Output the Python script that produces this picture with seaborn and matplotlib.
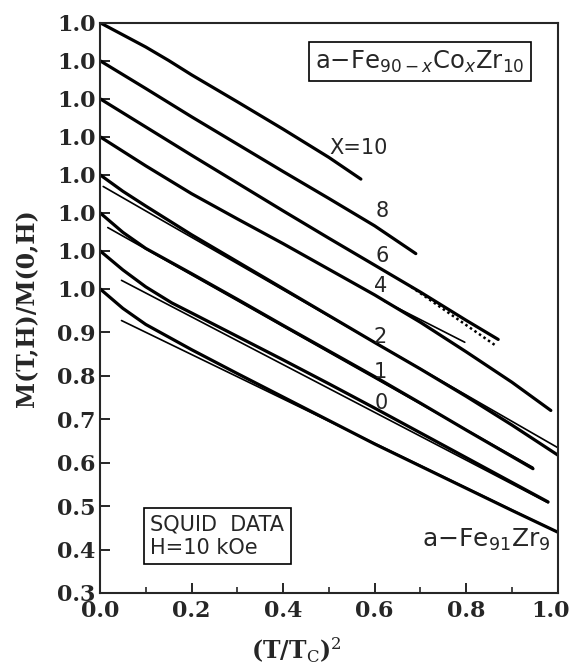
import matplotlib
matplotlib.use("Agg")
import numpy as np
import pandas as pd
import matplotlib.pyplot as plt
import matplotlib.transforms as mtransforms
import seaborn as sns
from matplotlib.ticker import FixedLocator, MultipleLocator

sns.set_style("ticks")
plt.rcParams["font.family"] = ["DejaVu Serif"]

# each curve is shifted up by one step so they do not overlap
offset_step = 0.0875

# reduced magnetisation vs (T/Tc)^2, bottom curve first
curve_names = ["Fe91Zr9", "X=0", "X=1", "X=2", "X=4", "X=6", "X=8", "X=10"]

x_fe91 = [0, 0.05, 0.1, 0.2, 0.3, 0.4, 0.5, 0.6, 0.7, 0.8, 0.9, 1.0]
m_fe91 = [1.0, 0.955, 0.918, 0.860, 0.805, 0.751, 0.697, 0.643, 0.592, 0.541, 0.490, 0.440]

x_x0 = [0, 0.05, 0.1, 0.157, 0.2, 0.3, 0.4, 0.5, 0.6, 0.7, 0.8, 0.9, 0.979]
m_x0 = [1.0, 0.956, 0.917, 0.880, 0.857, 0.803, 0.749, 0.694, 0.638, 0.581, 0.524, 0.467, 0.422]

x_x1 = [0, 0.05, 0.1, 0.2, 0.3, 0.4, 0.5, 0.6, 0.7, 0.8, 0.946]
m_x1 = [1.0, 0.955, 0.918, 0.860, 0.801, 0.741, 0.682, 0.623, 0.562, 0.500, 0.411]

x_x2 = [0, 0.05, 0.1, 0.2, 0.3, 0.4, 0.5, 0.6, 0.7, 0.8, 0.9, 1.0]
m_x2 = [1.0, 0.962, 0.928, 0.862, 0.800, 0.738, 0.676, 0.614, 0.553, 0.490, 0.424, 0.355]

x_x4 = [0, 0.1, 0.2, 0.3, 0.4, 0.5, 0.6, 0.7, 0.8, 0.9, 0.985]
m_x4 = [1.0, 0.933, 0.869, 0.811, 0.754, 0.695, 0.636, 0.573, 0.505, 0.435, 0.370]

x_x6 = [0, 0.1, 0.2, 0.3, 0.4, 0.5, 0.6, 0.7, 0.8, 0.87]
m_x6 = [1.0, 0.935, 0.870, 0.806, 0.742, 0.679, 0.617, 0.555, 0.490, 0.446]

x_x8 = [0, 0.1, 0.2, 0.3, 0.4, 0.5, 0.6, 0.69]
m_x8 = [1.0, 0.936, 0.871, 0.808, 0.745, 0.683, 0.620, 0.556]

x_x10 = [0, 0.05, 0.1, 0.15, 0.2, 0.3, 0.4, 0.5, 0.57]
m_x10 = [1.0, 0.972, 0.944, 0.913, 0.880, 0.818, 0.755, 0.690, 0.640]

curves_x = [x_fe91, x_x0, x_x1, x_x2, x_x4, x_x6, x_x8, x_x10]
curves_m = [m_fe91, m_x0, m_x1, m_x2, m_x4, m_x6, m_x8, m_x10]

# straight T^2 fits (thin lines): curve index, x ends, M ends
fit_index = [0, 1, 2, 3, 4]
fit_x = [[0.047, 1.0], [0.047, 0.979], [0.017, 0.946], [0.007, 1.0], [0.62, 0.797]]
fit_m = [[0.927, 0.440], [0.932, 0.420], [0.966, 0.414], [0.973, 0.372], [0.622, 0.527]]

# dotted tail next to the X=6 curve
dot_x = [0.68, 0.867]
dot_m = [0.567, 0.430]

rows = []
for k, (xs, ms) in enumerate(zip(curves_x, curves_m)):
    for xv, mv in zip(xs, ms):
        rows.append({"x": xv, "M": mv + k * offset_step, "curve": curve_names[k]})
df = pd.DataFrame(rows)

fig = plt.figure(figsize=(5.72, 6.67), dpi=100)
ax = fig.add_axes([0.1748, 0.111, 0.8002, 0.855])

sns.lineplot(data=df, x="x", y="M", units="curve", estimator=None,
             color="black", lw=2.3, sort=False, ax=ax)

for i, xs, ms in zip(fit_index, fit_x, fit_m):
    sns.lineplot(x=xs, y=np.array(ms) + i * offset_step, color="black",
                 lw=1.2, ax=ax)

sns.lineplot(x=dot_x, y=np.array(dot_m) + 5 * offset_step, color="black",
             lw=1.8, linestyle=(0, (1, 1.2)), ax=ax)

ax.set_xlim(0, 1.0)
ax.set_ylim(0.3, 1.0 + 7 * offset_step)

ytick_pos = [0.3, 0.4, 0.5, 0.6, 0.7, 0.8, 0.9] + [1.0 + k * offset_step for k in range(8)]
ytick_lab = ["0.3", "0.4", "0.5", "0.6", "0.7", "0.8", "0.9"] + ["1.0"] * 8
ax.yaxis.set_major_locator(FixedLocator(ytick_pos))
ax.set_yticklabels(ytick_lab)
xtick_pos = [0.0, 0.2, 0.4, 0.6, 0.8, 1.0]
ax.xaxis.set_major_locator(FixedLocator(xtick_pos))
ax.set_xticklabels([f"{v:.1f}" for v in xtick_pos])
ax.xaxis.set_minor_locator(MultipleLocator(0.1))

ax.tick_params(axis="both", which="major", direction="in", length=7, width=1.4,
               labelsize=16, pad=3)
ax.tick_params(axis="x", which="major", pad=5)
ax.tick_params(axis="x", which="minor", direction="in", length=4.5, width=1.2)
for lab in ax.get_xticklabels() + ax.get_yticklabels():
    lab.set_fontweight("bold")
# last x label sits a little inside the figure edge, as in the original
last = ax.get_xticklabels()[-1]
last.set_transform(last.get_transform() +
                   mtransforms.ScaledTranslation(-5 / 72, 0, fig.dpi_scale_trans))
for sp in ax.spines.values():
    sp.set_linewidth(1.5)
    sp.set_visible(True)

ax.set_xlabel("(T/T$_\\mathrm{C}$)$^2$", fontsize=17, fontweight="bold")
ax.set_ylabel("M(T,H)/M(0,H)", fontsize=17, fontweight="bold")
ax.xaxis.label.set_math_fontfamily("dejavuserif")
ax.xaxis.set_label_coords(0.43, -0.074)
ax.yaxis.set_label_coords(-0.133, 0.5)

sans = "DejaVu Sans"
ax.text(0.699, 1.523, "a\u2212Fe$_{90\u2212x}$Co$_x$Zr$_{10}$", family=sans, fontsize=17.5,
        ha="center", va="center", math_fontfamily="dejavusans",
        bbox=dict(boxstyle="square,pad=0.25", fc="white", ec="black", lw=1.2))

ax.text(0.564, 1.325, "X=10", family=sans, fontsize=15, ha="center", va="center")
for lab, xp, yp in [("8", 0.616, 1.178), ("6", 0.616, 1.076), ("4", 0.614, 1.006),
                    ("2", 0.612, 0.890), ("1", 0.612, 0.809), ("0", 0.614, 0.738)]:
    ax.text(xp, yp, lab, family=sans, fontsize=15, ha="center", va="center")

ax.text(0.985, 0.422, "a\u2212Fe$_{91}$Zr$_9$", family=sans, fontsize=18, ha="right",
        va="center", math_fontfamily="dejavusans")

ax.text(0.11, 0.431, "SQUID  DATA\nH=10 kOe", family=sans, fontsize=15,
        ha="left", va="center", linespacing=1.2,
        bbox=dict(boxstyle="square,pad=0.3", fc="white", ec="black", lw=1.2))

fig.savefig("out.png", dpi=100)
